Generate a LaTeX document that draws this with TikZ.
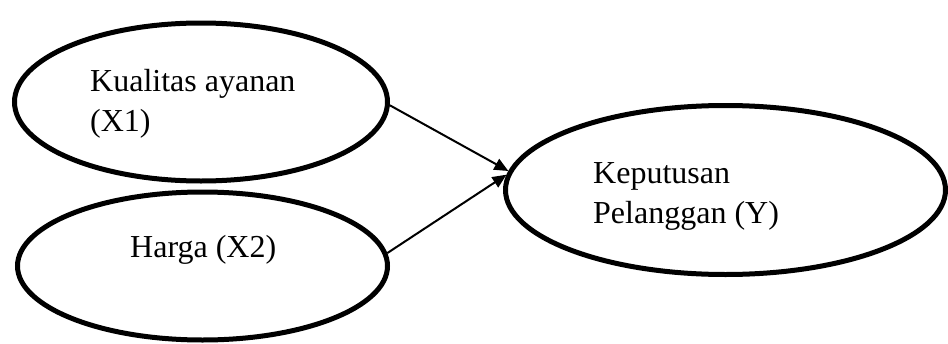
\documentclass[tikz,border=0pt]{standalone}
\usepackage{fontspec}
\setmainfont{Liberation Serif}
\usetikzlibrary{shapes.geometric,arrows.meta}
\begin{document}
\begin{tikzpicture}[x=1pt,y=-1pt,
  var/.style={draw=black,ellipse,line width=5pt,inner sep=0pt,fill=none},
  lbl/.style={anchor=north west,inner sep=0pt,align=left,font=\fontsize{32}{40}\selectfont},
  conn/.style={line width=2pt,-{Triangle[length=14pt,width=12pt]}}]
\useasboundingbox (0,0) rectangle (948,343);
\node[var,minimum width=373pt,minimum height=158pt] (e1) at (201,102) {};
\node[var,minimum width=370pt,minimum height=148pt] (e2) at (202.5,266) {};
\node[var,minimum width=440pt,minimum height=169pt] (e3) at (725.5,190) {};
\node[lbl] (t1) at (90,69) {Kualitas ayanan\\(X1)};
\node[lbl] (t2) at (130,235) {Harga (X2)};
\node[lbl] (t3) at (593,162) {Keputusan\\Pelanggan (Y)};
\draw[conn] (e1.-1) -- (e3.175.6);
\draw[conn] (e2.4) -- (e3.176.9);
\end{tikzpicture}
\end{document}
